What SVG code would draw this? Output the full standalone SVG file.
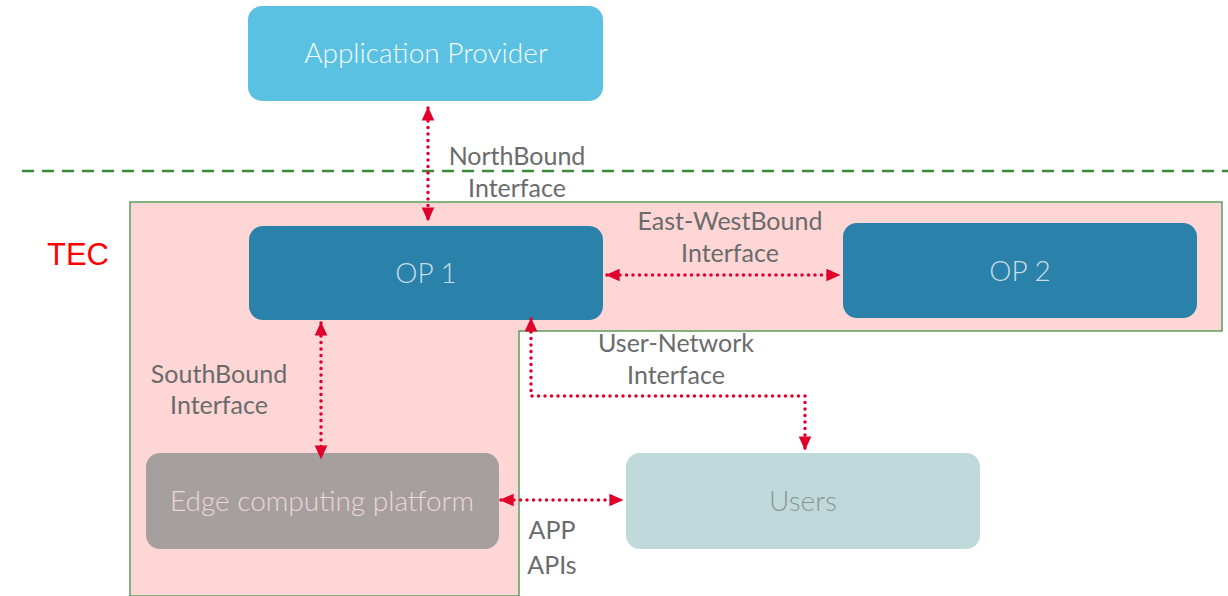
<svg xmlns="http://www.w3.org/2000/svg" width="1228" height="596" viewBox="0 0 1228 596">
<defs>
<marker id="ah" viewBox="0 0 10 10" refX="9" refY="5" markerWidth="14" markerHeight="14" markerUnits="userSpaceOnUse" orient="auto-start-reverse">
<path d="M0,0.5 L10,5 L0,9.5 z" fill="#E0002B"/>
</marker>
<style>
.lbl{font-family:Lato,"Open Sans","Liberation Sans",sans-serif;font-size:25px;fill:#6b6b6b;text-anchor:middle}
.box{font-family:Lato,"Open Sans","Liberation Sans",sans-serif;font-weight:300;font-size:28px;text-anchor:middle}
.con{fill:none;stroke:#E0002B;stroke-width:3.5;stroke-dasharray:0 6.5;stroke-linecap:round}
</style>
</defs>
<rect width="1228" height="596" fill="#ffffff"/>
<g id="tec-region">
<path d="M130,202 L1222,202 L1222,331 L519,331 L519,596 L130,596 Z" fill="#FFD6D6" stroke="#5C9E5C" stroke-width="1.5"/>
<text x="47" y="265" font-family="'Liberation Sans',Arial,sans-serif" font-size="31" fill="#FF0000">TEC</text>
</g>
<line x1="22" y1="171" x2="1228" y2="171" stroke="#3A8A3A" stroke-width="2.5" stroke-dasharray="12 8"/>
<g id="app-provider">
<rect x="248" y="6" width="355" height="95" rx="14" fill="#5BC1E2"/>
<text class="box" x="426" y="63" fill="#F2FAFD">Application Provider</text>
</g>
<g id="op1">
<rect x="249" y="226" width="354" height="94" rx="14" fill="#2A82AA"/>
<text class="box" x="426" y="283" fill="#C9DDE8">OP 1</text>
</g>
<g id="op2">
<rect x="843" y="223" width="354" height="95" rx="14" fill="#2A82AA"/>
<text class="box" x="1020" y="281" fill="#C9DDE8">OP 2</text>
</g>
<g id="edge">
<rect x="146" y="453" width="353" height="96" rx="14" fill="#A5A09E"/>
<text class="box" x="322" y="511" fill="#F0D6D6">Edge computing platform</text>
</g>
<g id="users">
<rect x="626" y="453" width="354" height="96" rx="14" fill="#C0D9DA"/>
<text class="box" x="803" y="511" fill="#8A9696">Users</text>
</g>
<g id="connectors">
<line class="con" x1="428" y1="108" x2="428" y2="220" marker-start="url(#ah)" marker-end="url(#ah)"/>
<line class="con" x1="607" y1="275" x2="839" y2="275" marker-start="url(#ah)" marker-end="url(#ah)"/>
<line class="con" x1="321" y1="323" x2="321" y2="458" marker-start="url(#ah)" marker-end="url(#ah)"/>
<path class="con" d="M531,319 L531,396 L805,396 L805,449" marker-start="url(#ah)" marker-end="url(#ah)"/>
<line class="con" x1="501" y1="500" x2="622" y2="500" marker-start="url(#ah)" marker-end="url(#ah)"/>
</g>
<g id="labels">
<text class="lbl" x="517" y="165">NorthBound</text>
<text class="lbl" x="517" y="197">Interface</text>
<text class="lbl" x="730" y="230">East-WestBound</text>
<text class="lbl" x="730" y="262">Interface</text>
<text class="lbl" x="219" y="383">SouthBound</text>
<text class="lbl" x="219" y="414">Interface</text>
<text class="lbl" x="676" y="352">User-Network</text>
<text class="lbl" x="676" y="384">Interface</text>
<text class="lbl" x="552" y="539">APP</text>
<text class="lbl" x="552" y="574">APIs</text>
</g>
</svg>
